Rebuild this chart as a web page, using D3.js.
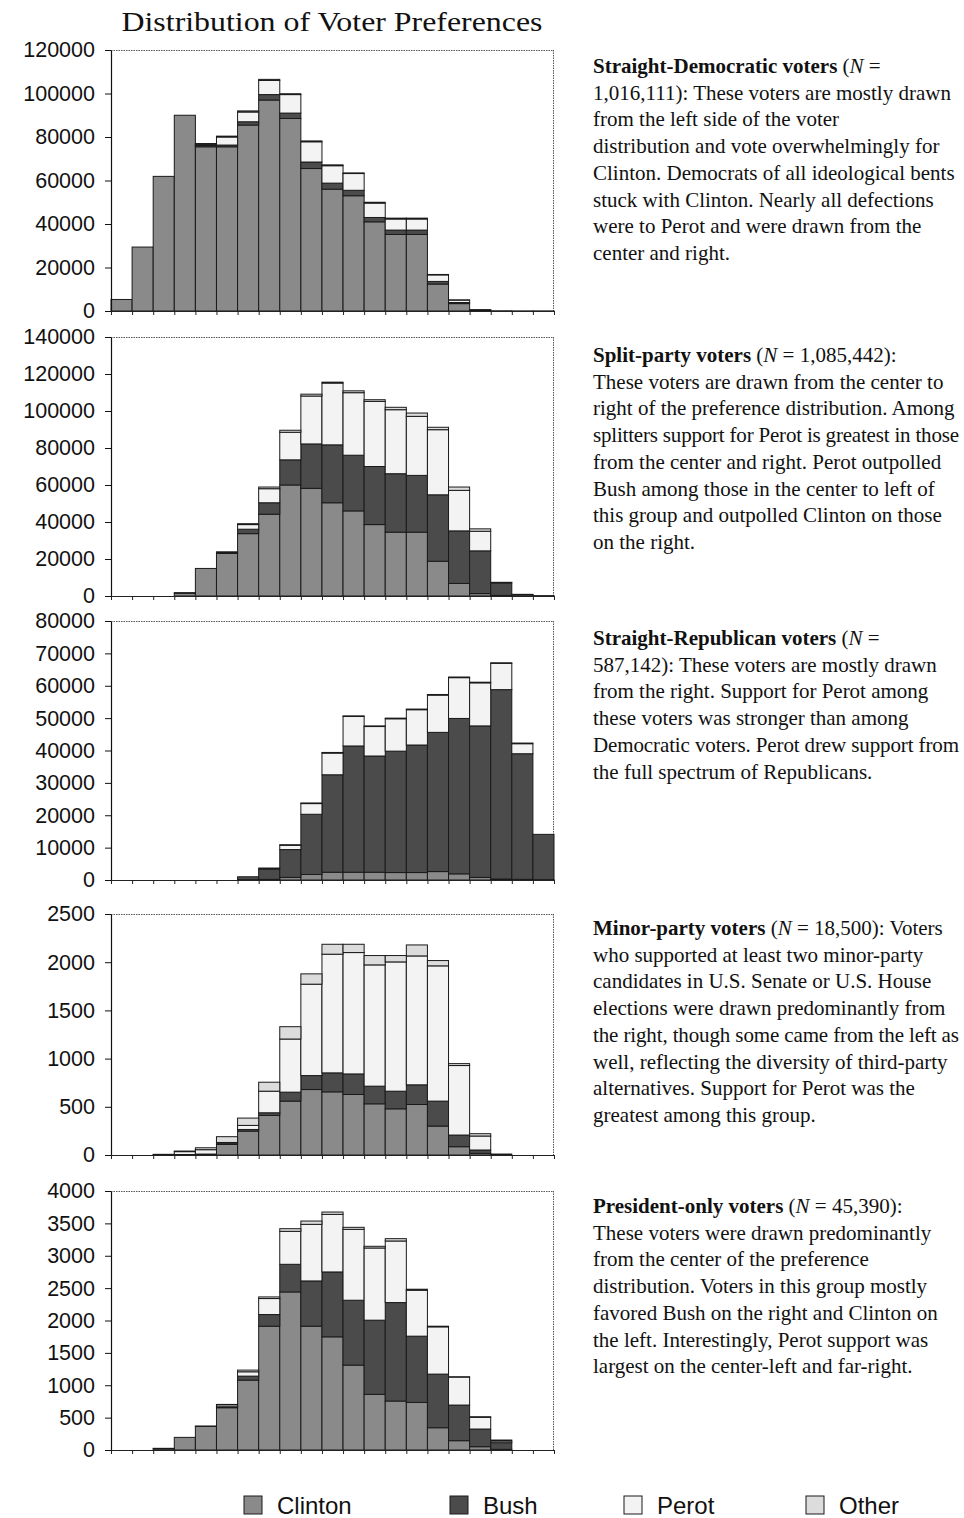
<!DOCTYPE html>
<html>
<head>
<meta charset="utf-8">
<script src="https://cdn.jsdelivr.net/npm/d3@7"></script>
<style>
  body { margin: 0; background: #fff; }
  svg { display: block; }
</style>
</head>
<body>
<svg id="chart" width="964" height="1518"></svg>
<script>
// Preference bins (left to right along the ideological scale)
const bins = [1, 2, 3, 4, 5, 6, 7, 8, 9, 10, 11, 12, 13, 14, 15, 16, 17, 18, 19, 20, 21];
const candidates = ["Clinton", "Bush", "Perot", "Other"];

// Straight-Democratic voters
const demClinton = [5300, 29400, 61900, 90000, 75500, 75500, 85500, 97000, 88500, 65500, 56000, 53000, 41000, 35200, 35200, 12400, 3400, 400, 100, 50, 50];
const demBush    = [0, 0, 0, 0, 600, 800, 1500, 2500, 2500, 3000, 2800, 2500, 2000, 2000, 2000, 1200, 500, 100, 0, 0, 0];
const demPerot   = [0, 0, 0, 0, 500, 3700, 4500, 6500, 8500, 9300, 8000, 7700, 6600, 5100, 5100, 3000, 1100, 100, 0, 0, 0];
const demOther   = [0, 0, 0, 0, 400, 400, 500, 500, 400, 400, 400, 300, 400, 400, 400, 200, 100, 0, 0, 0, 0];

// Split-party voters
const splitClinton = [0, 0, 0, 1500, 14900, 23000, 33700, 44200, 60000, 58200, 50400, 46000, 38600, 34500, 34500, 18800, 6800, 1300, 300, 0, 0];
const splitBush    = [0, 0, 0, 300, 0, 500, 2400, 6200, 13600, 24000, 31300, 30100, 31400, 31600, 30700, 35900, 28400, 23100, 6800, 800, 200];
const splitPerot   = [0, 0, 0, 0, 0, 400, 2500, 7600, 14900, 25900, 33400, 33800, 35200, 34600, 31900, 35200, 21900, 10600, 300, 0, 0];
const splitOther   = [0, 0, 0, 0, 0, 0, 500, 900, 1100, 1000, 500, 1000, 900, 1300, 1800, 1300, 1800, 1300, 0, 100, 0];

// Straight-Republican voters
const repClinton = [0, 0, 0, 0, 0, 0, 100, 200, 800, 1700, 2400, 2400, 2400, 2300, 2300, 2600, 1900, 800, 300, 200, 100];
const repBush    = [0, 0, 0, 0, 0, 0, 900, 3200, 8600, 18600, 30100, 39000, 35900, 37500, 39400, 43000, 48000, 46800, 58500, 38800, 14000];
const repPerot   = [0, 0, 0, 0, 0, 0, 0, 300, 1300, 3300, 6700, 9100, 9100, 10000, 10900, 11500, 12600, 13300, 8100, 3100, 0];
const repOther   = [0, 0, 0, 0, 0, 0, 0, 0, 200, 200, 200, 200, 200, 200, 200, 200, 200, 200, 200, 200, 0];

// Minor-party voters
const minorClinton = [0, 0, 0, 5, 10, 110, 248, 410, 559, 679, 655, 628, 531, 479, 524, 300, 86, 17, 0, 0, 0];
const minorBush    = [0, 0, 0, 0, 0, 12, 17, 28, 93, 145, 197, 213, 183, 183, 204, 259, 121, 35, 10, 0, 0];
const minorPerot   = [0, 0, 5, 30, 45, 8, 42, 224, 551, 948, 1231, 1259, 1258, 1341, 1337, 1403, 721, 145, 0, 0, 0];
const minorOther   = [0, 0, 2, 6, 20, 60, 76, 93, 128, 107, 103, 86, 97, 66, 114, 55, 20, 24, 0, 0, 0];

// President-only voters
const presClinton = [0, 0, 20, 195, 365, 653, 1079, 1912, 2441, 1912, 1748, 1311, 859, 756, 735, 344, 144, 51, 10, 0, 0];
const presBush    = [0, 0, 6, 0, 5, 15, 62, 180, 427, 699, 1002, 1002, 1146, 1521, 1023, 828, 550, 273, 103, 0, 0];
const presPerot   = [0, 0, 0, 0, 0, 30, 67, 247, 509, 874, 889, 1095, 1115, 951, 709, 730, 432, 180, 26, 0, 0];
const presOther   = [0, 0, 0, 0, 0, 6, 26, 25, 41, 51, 36, 31, 26, 36, 16, 10, 5, 10, 15, 0, 0];

// Axis extents and tick steps, one per group
const axisMax  = [120000, 140000, 80000, 2500, 4000];
const tickStep = [20000, 20000, 10000, 500, 500];

// Group descriptions
const captions = [
  { head: "Straight-Democratic voters", n: null, lines: [
      "1,016,111): These voters are mostly drawn",
      "from the left side of the voter",
      "distribution and vote overwhelmingly for",
      "Clinton. Democrats of all ideological bents",
      "stuck with Clinton. Nearly all defections",
      "were to Perot and were drawn from the",
      "center and right."] },
  { head: "Split-party voters", n: "1,085,442):", lines: [
      "These voters are drawn from the center to",
      "right of the preference distribution. Among",
      "splitters support for Perot is greatest in those",
      "from the center and right. Perot outpolled",
      "Bush among those in the center to left of",
      "this group and outpolled Clinton on those",
      "on the right."] },
  { head: "Straight-Republican voters", n: null, lines: [
      "587,142): These voters are mostly drawn",
      "from the right. Support for Perot among",
      "these voters was stronger than among",
      "Democratic voters. Perot drew support from",
      "the full spectrum of Republicans."] },
  { head: "Minor-party voters", n: "18,500): Voters", lines: [
      "who supported at least two minor-party",
      "candidates in U.S. Senate or U.S. House",
      "elections were drawn predominantly from",
      "the right, though some came from the left as",
      "well, reflecting the diversity of third-party",
      "alternatives. Support for Perot was the",
      "greatest among this group."] },
  { head: "President-only voters", n: "45,390):", lines: [
      "These voters were drawn predominantly",
      "from the center of the preference",
      "distribution. Voters in this group mostly",
      "favored Bush on the right and Clinton on",
      "the left. Interestingly, Perot support was",
      "largest on the center-left and far-right."] }
];

const groups = [
  [demClinton, demBush, demPerot, demOther],
  [splitClinton, splitBush, splitPerot, splitOther],
  [repClinton, repBush, repPerot, repOther],
  [minorClinton, minorBush, minorPerot, minorOther],
  [presClinton, presBush, presPerot, presOther]
];

// ---- layout ----
const svg = d3.select("#chart");
const plotLeft = 111, plotRight = 554;
const panelTop = [50, 337, 621, 914, 1191];
const panelBottom = [311, 596, 880, 1155, 1450];
const captionTop = [73, 362, 645, 935, 1213];
const lineHeight = 26.7;
const textX = 593, textMaxW = 366;

const fills = { Clinton: "#8a8a8a", Bush: "#4b4b4b", Perot: "#f3f3f3", Other: "#dcdcdc" };
const color = d3.scaleOrdinal().domain(candidates).range(candidates.map(c => fills[c]));

svg.append("text")
  .attr("x", 332).attr("y", 31)
  .attr("text-anchor", "middle")
  .attr("font-family", "'Liberation Serif', 'DejaVu Serif', serif")
  .attr("font-size", 27)
  .attr("textLength", 421).attr("lengthAdjust", "spacingAndGlyphs")
  .attr("fill", "#111")
  .text("Distribution of Voter Preferences");

const x = d3.scaleBand().domain(bins).range([plotLeft, plotRight]).paddingInner(0).paddingOuter(0);
const xEdges = d3.scaleLinear().domain([0, bins.length]).range([plotLeft, plotRight]);

groups.forEach((series, gi) => {
  const y = d3.scaleLinear().domain([0, axisMax[gi]]).range([panelBottom[gi], panelTop[gi]]);
  const g = svg.append("g");

  const rows = bins.map((b, i) => {
    const r = { bin: b };
    candidates.forEach((c, ci) => { r[c] = series[ci][i]; });
    return r;
  });
  const stacked = d3.stack().keys(candidates)(rows);

  // frame: dotted top and right edges
  g.append("line")
    .attr("x1", plotLeft).attr("x2", plotRight)
    .attr("y1", panelTop[gi] + 0.5).attr("y2", panelTop[gi] + 0.5)
    .attr("stroke", "#555").attr("stroke-width", 1).attr("stroke-dasharray", "1.5,1");
  g.append("line")
    .attr("x1", plotRight - 0.5).attr("x2", plotRight - 0.5)
    .attr("y1", panelTop[gi]).attr("y2", panelBottom[gi])
    .attr("stroke", "#555").attr("stroke-width", 1).attr("stroke-dasharray", "1.5,1");

  // stacked bars
  g.selectAll("g.layer").data(stacked).join("g")
    .attr("class", "layer")
    .attr("fill", d => color(d.key))
    .selectAll("rect")
    .data(d => d.filter(s => s[1] - s[0] > 0))
    .join("rect")
    .attr("x", d => x(d.data.bin))
    .attr("width", x.bandwidth())
    .attr("y", d => y(d[1]))
    .attr("height", d => y(d[0]) - y(d[1]))
    .attr("stroke", "#1a1a1a")
    .attr("stroke-width", 1);

  // y axis
  const ticks = d3.range(0, axisMax[gi] + tickStep[gi] / 2, tickStep[gi]);
  const yAxis = g.append("g")
    .attr("transform", `translate(${plotLeft},0)`)
    .call(d3.axisLeft(y).tickValues(ticks).tickFormat(d3.format("d")).tickSizeInner(6).tickSizeOuter(0).tickPadding(10));
  yAxis.select(".domain").attr("stroke", "#111").attr("stroke-width", 1.2);
  yAxis.selectAll(".tick line").attr("stroke", "#111");
  yAxis.selectAll("text")
    .attr("font-family", "'Liberation Sans', Arial, sans-serif")
    .attr("font-size", 21.5)
    .attr("fill", "#111");

  // x axis with ticks at bin edges
  const xAxis = g.append("g")
    .attr("transform", `translate(0,${panelBottom[gi]})`)
    .call(d3.axisBottom(xEdges).tickValues(d3.range(0, bins.length + 1)).tickFormat("").tickSizeInner(4).tickSizeOuter(0));
  xAxis.select(".domain").attr("stroke", "#222").attr("stroke-width", 1.2);
  xAxis.selectAll(".tick line").attr("stroke", "#222");

  // caption
  const cap = captions[gi];
  const t = svg.append("text")
    .attr("font-family", "'Liberation Serif', 'Times New Roman', serif")
    .attr("font-size", 21)
    .attr("fill", "#111");
  const first = t.append("tspan").attr("x", textX).attr("y", captionTop[gi]);
  first.append("tspan").attr("font-weight", "bold").text(cap.head);
  first.append("tspan").text(" (");
  first.append("tspan").attr("font-style", "italic").text("N");
  first.append("tspan").text(cap.n ? " = " + cap.n : " =");
  cap.lines.forEach((ln, li) => {
    const s = t.append("tspan")
      .attr("x", textX)
      .attr("y", captionTop[gi] + lineHeight * (li + 1))
      .text(ln);
    const w = s.node().getComputedTextLength();
    if (w > textMaxW) s.attr("textLength", textMaxW).attr("lengthAdjust", "spacing");
  });
});

// legend
const legendX = [244, 450, 624, 806];
const legend = svg.append("g").attr("transform", "translate(0,1496)");
candidates.forEach((c, i) => {
  legend.append("rect")
    .attr("x", legendX[i]).attr("y", 0)
    .attr("width", 18).attr("height", 18)
    .attr("fill", color(c))
    .attr("stroke", "#1a1a1a").attr("stroke-width", 1);
  legend.append("text")
    .attr("x", legendX[i] + 33).attr("y", 18)
    .attr("font-family", "'Liberation Sans', Arial, sans-serif")
    .attr("font-size", 24)
    .attr("fill", "#111")
    .text(c);
});
</script>
</body>
</html>
